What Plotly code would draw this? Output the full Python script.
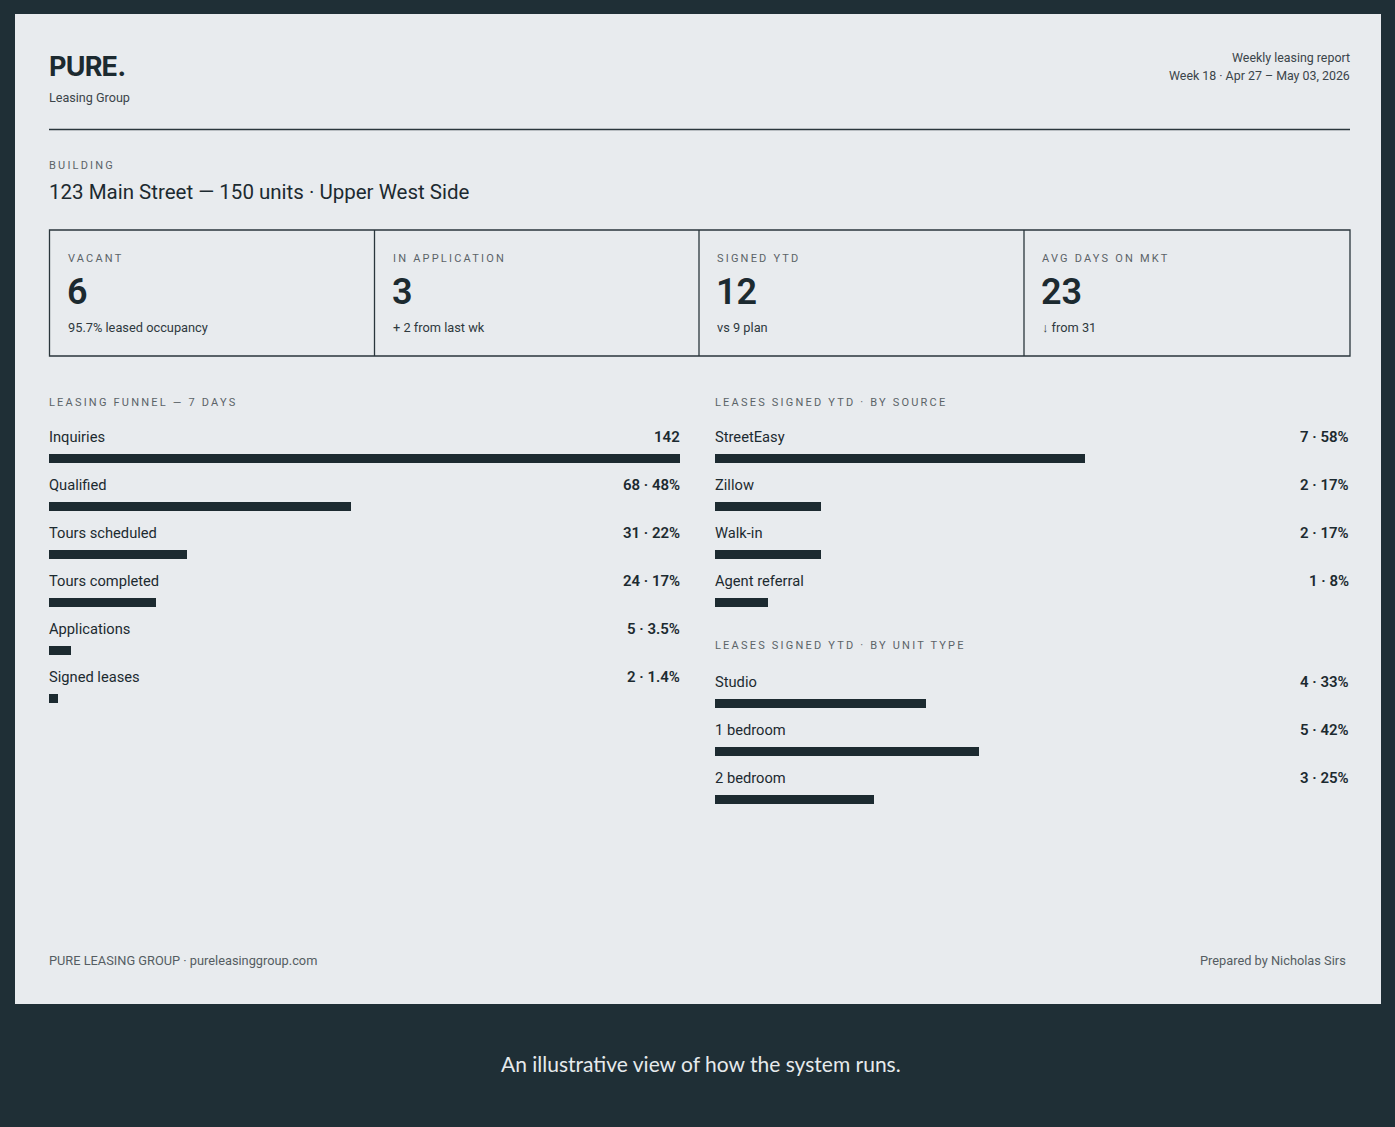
import plotly.graph_objects as go

W, H = 1395, 1127

# ---------------- data ----------------
funnel_stages = ["Inquiries", "Qualified", "Tours scheduled", "Tours completed", "Applications", "Signed leases"]
funnel_counts = [142, 68, 31, 24, 5, 2]
funnel_pct = ["", "48%", "22%", "17%", "3.5%", "1.4%"]

source_names = ["StreetEasy", "Zillow", "Walk-in", "Agent referral"]
source_counts = [7, 2, 2, 1]
source_pct = ["58%", "17%", "17%", "8%"]

unit_names = ["Studio", "1 bedroom", "2 bedroom"]
unit_counts = [4, 5, 3]
unit_pct = ["33%", "42%", "25%"]

kpi_labels = ["VACANT", "IN APPLICATION", "SIGNED YTD", "AVG DAYS ON MKT"]
kpi_values = ["6", "3", "12", "23"]
kpi_notes = ["95.7% leased occupancy", "+ 2 from last wk", "vs 9 plan", "↓ from 31"]

# ---------------- style ----------------
PAGE_BG = "#1f2f36"
CARD_BG = "#e8ebee"
INK = "#1c2a30"
GREY = "#5b6368"
FONT = "Roboto"
SHIFT = {"left": -2, "right": 2, "center": 0}


def px(x):
    return x / W


def py(y):
    return 1 - y / H


fig = go.Figure()
ann = []
shapes = []

# card
shapes.append(dict(type="rect", xref="paper", yref="paper", x0=px(15), x1=px(1381), y0=py(1004), y1=py(14),
                   fillcolor=CARD_BG, line=dict(width=0), layer="below"))
# header rule
shapes.append(dict(type="line", xref="paper", yref="paper", x0=px(49), x1=px(1350), y0=py(129.5), y1=py(129.5),
                   line=dict(color="#2a363c", width=1.5)))
# KPI box
shapes.append(dict(type="rect", xref="paper", yref="paper", x0=px(49.5), x1=px(1350), y0=py(356), y1=py(230),
                   line=dict(color="#2a363c", width=1.3)))
kpi_x = [49.5, 374.5, 699, 1024]
for xd in kpi_x[1:]:
    shapes.append(dict(type="line", xref="paper", yref="paper", x0=px(xd), x1=px(xd), y0=py(356), y1=py(230),
                       line=dict(color="#2a363c", width=1.3)))


def text(x, y, s, size, color=INK, weight=400, anchor="left", family=FONT):
    ann.append(dict(xref="paper", yref="paper", x=px(x), y=py(y), text=s, showarrow=False,
                    xanchor=anchor, yanchor="middle", align=anchor, xshift=SHIFT[anchor],
                    font=dict(family=family, size=size, color=color, weight=weight)))


# header
text(49, 67, "PURE.", 27, INK, 700, family="Inter")
text(49, 98, "Leasing Group", 12.6, "#3b454a")
text(1350, 57, "Weekly leasing report", 12.4, "#3b454a", anchor="right")
text(1350, 75, "Week 18 · Apr 27 – May 03, 2026", 12.4, "#3b454a", anchor="right")

text(49, 165, "BUILDING", 11, GREY)
text(49, 192, "123 Main Street — 150 units · Upper West Side", 20.5, INK, 400)

# KPIs
for i in range(4):
    x0 = kpi_x[i] + 18
    text(x0, 258, kpi_labels[i], 11, GREY)
    text(x0 - 1, 292, kpi_values[i], 36, INK, 600)
    text(x0, 327, kpi_notes[i], 12.8, "#2f393e")

# section headings
text(49, 402, "LEASING FUNNEL — 7 DAYS", 11, GREY)
text(715, 402, "LEASES SIGNED YTD · BY SOURCE", 11, GREY)
text(715, 645, "LEASES SIGNED YTD · BY UNIT TYPE", 11, GREY)

# footer & caption
text(49, 960, "PURE LEASING GROUP · pureleasinggroup.com", 12.8, "#555d62")
text(1346, 960, "Prepared by Nicholas Sirs", 12.8, "#555d62", anchor="right")
text(701, 1063, "An illustrative view of how the system runs.", 21, "#e6eaec", 400, anchor="center", family="Lato")

# ---------------- bar panels ----------------
STEP = 48
BAR_PX = 9


def panel(k, x0, x1, top, names, counts, pcts, xmax):
    n = len(names)
    xa = "xaxis" if k == 1 else f"xaxis{k}"
    ya = "yaxis" if k == 1 else f"yaxis{k}"
    xr = "x" if k == 1 else f"x{k}"
    yr = "y" if k == 1 else f"y{k}"
    idx = list(range(n))
    fig.add_trace(go.Bar(x=counts, y=idx, orientation="h", xaxis=xr, yaxis=yr, width=BAR_PX / STEP,
                         marker=dict(color=INK, line=dict(width=0)), hoverinfo="skip", showlegend=False))
    fig.layout[xa] = dict(domain=[px(x0), px(x1)], range=[0, xmax], visible=False, fixedrange=True,
                          anchor=yr)
    fig.layout[ya] = dict(domain=[py(top + n * STEP), py(top)], range=[n - 0.5, -0.5], visible=False,
                          fixedrange=True, anchor=xr)
    for i in idx:
        ann.append(dict(xref=xr, yref=yr, x=0, y=i, yshift=21, xshift=-2, text=names[i], showarrow=False,
                        xanchor="left", yanchor="middle", align="left",
                        font=dict(family=FONT, size=14.7, color=INK)))
        val = f"{counts[i]} · {pcts[i]}" if pcts[i] else f"{counts[i]}"
        ann.append(dict(xref=xr, yref=yr, x=xmax, y=i, yshift=21, xshift=2, text=val, showarrow=False,
                        xanchor="right", yanchor="middle", align="right",
                        font=dict(family=FONT, size=15, color=INK, weight=600)))


panel(1, 49, 680, 434, funnel_stages, funnel_counts, funnel_pct, max(funnel_counts))
panel(2, 715, 1349, 434, source_names, source_counts, source_pct, sum(source_counts))
panel(3, 715, 1349, 679, unit_names, unit_counts, unit_pct, sum(unit_counts))

fig.update_layout(width=W, height=H, margin=dict(l=0, r=0, t=0, b=0), paper_bgcolor=PAGE_BG,
                  plot_bgcolor="rgba(0,0,0,0)", annotations=ann, shapes=shapes, bargap=0,
                  showlegend=False)

spaced = ["BUILDING", "LEASING FUNNEL — 7 DAYS", "LEASES SIGNED YTD · BY SOURCE",
          "LEASES SIGNED YTD · BY UNIT TYPE"] + kpi_labels
post = """
document.body.style.margin='0';
document.body.style.overflow='hidden';
var spaced = %s;
document.querySelectorAll('text.annotation-text').forEach(function(t){
  if (spaced.indexOf(t.textContent) >= 0) { t.style.letterSpacing = '2.2px'; }
  if (t.textContent === 'PURE.') { t.style.letterSpacing = '-0.8px'; }
});
""" % (str(spaced).replace("'", '"'))

fig.write_html("out.html", config={"displayModeBar": False}, post_script=post)
